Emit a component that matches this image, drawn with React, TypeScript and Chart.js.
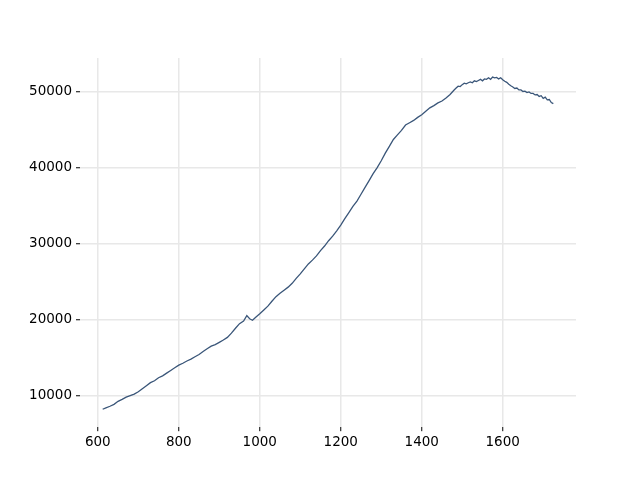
import React, { useEffect, useRef } from "react";
import { Chart, registerables } from "chart.js";

Chart.register(...registerables);

const xValues: number[] = [
  612, 620, 630, 640, 650, 660, 670, 680, 690, 700,
  710, 720, 730, 740, 750, 760, 770, 780, 790, 800,
  810, 820, 830, 840, 850, 860, 870, 880, 890, 900,
  910, 920, 930, 940, 950, 960, 968, 975, 982, 990,
  1000, 1010, 1020, 1030, 1040, 1050, 1060, 1070, 1080, 1090,
  1100, 1110, 1120, 1130, 1140, 1150, 1160, 1170, 1180, 1190,
  1200, 1210, 1220, 1230, 1240, 1250, 1260, 1270, 1280, 1290,
  1300, 1310, 1320, 1330, 1340, 1350, 1360, 1370, 1380, 1390,
  1400, 1410, 1420, 1430, 1440, 1450, 1460, 1470, 1480, 1485,
  1490, 1495, 1500, 1505, 1510, 1515, 1520, 1525, 1530, 1535,
  1540, 1545, 1550, 1555, 1560, 1565, 1570, 1575, 1580, 1585,
  1590, 1595, 1600, 1605, 1610, 1615, 1620, 1625, 1630, 1635,
  1640, 1645, 1650, 1655, 1660, 1665, 1670, 1675, 1680, 1685,
  1690, 1695, 1700, 1705, 1710, 1715, 1720, 1725,
];

const yValues: number[] = [
  8260, 8450, 8650, 8900, 9300, 9550, 9850, 10050, 10250, 10550,
  10950, 11350, 11750, 12000, 12400, 12650, 13000, 13350, 13700, 14050,
  14300, 14600, 14850, 15150, 15450, 15850, 16200, 16550, 16750, 17050,
  17350, 17700, 18250, 18900, 19500, 19850, 20550, 20150, 19950, 20350,
  20800, 21300, 21800, 22450, 23050, 23500, 23900, 24300, 24800, 25450,
  26050, 26700, 27350, 27850, 28400, 29100, 29700, 30400, 31000, 31700,
  32450, 33300, 34100, 34900, 35600, 36500, 37400, 38300, 39200, 40000,
  40900, 41900, 42800, 43700, 44300, 44900, 45600, 45900, 46200, 46600,
  46950, 47400, 47850, 48150, 48500, 48750, 49150, 49600, 50200, 50450,
  50700, 50650, 50900, 51100, 51000, 51150, 51250, 51150, 51400, 51300,
  51450, 51600, 51400, 51650, 51600, 51800, 51600, 51900, 51800, 51850,
  51650, 51800, 51550, 51350, 51200, 50950, 50750, 50600, 50400, 50450,
  50200, 50200, 50000, 50050, 49850, 49950, 49750, 49750, 49550, 49600,
  49350, 49450, 49100, 49250, 48900, 48950, 48550, 48400,
];

const xTicks: number[] = [600, 800, 1000, 1200, 1400, 1600];
const yTicks: number[] = [10000, 20000, 30000, 40000, 50000];

export default function App() {
  const canvasRef = useRef<HTMLCanvasElement | null>(null);

  useEffect(() => {
    if (!canvasRef.current) return;
    const points = xValues.map((x, i) => ({ x, y: yValues[i] }));
    const font = { family: "DejaVu Sans", size: 13.5 };
    const grid = {
      color: "#e8e8e8",
      lineWidth: 1.5,
      tickColor: "#000",
      tickWidth: 1,
      tickLength: 4,
    };
    const chart = new Chart(canvasRef.current, {
      type: "line",
      data: {
        datasets: [
          {
            data: points,
            borderColor: "#3a5679",
            borderWidth: 1.3,
            pointRadius: 0,
            tension: 0,
            fill: false,
          },
        ],
      },
      options: {
        animation: false,
        responsive: false,
        layout: { padding: { left: 0, right: 64, top: 58, bottom: 0 } },
        plugins: { legend: { display: false }, tooltip: { enabled: false } },
        scales: {
          x: {
            type: "linear",
            min: 556,
            max: 1781,
            border: { display: false },
            grid,
            ticks: {
              color: "#000",
              font,
              padding: 3,
              maxRotation: 0,
              autoSkip: false,
              callback: (v: any) => String(v),
            },
            afterBuildTicks: (s: any) => {
              s.ticks = xTicks.map((v) => ({ value: v }));
            },
            afterFit: (s: any) => {
              s.height = 52.8;
            },
          },
          y: {
            type: "linear",
            min: 5900,
            max: 54400,
            border: { display: false },
            grid,
            ticks: {
              color: "#000",
              font,
              padding: 4,
              autoSkip: false,
              callback: (v: any) => String(v),
            },
            afterBuildTicks: (s: any) => {
              s.ticks = yTicks.map((v) => ({ value: v }));
            },
            afterFit: (s: any) => {
              s.width = 80;
            },
          },
        },
      },
    });
    return () => chart.destroy();
  }, []);

  return (
    <div style={{ position: "fixed", left: 0, top: 0, width: 640, height: 480, background: "#fff" }}>
      <canvas ref={canvasRef} width={640} height={480} style={{ display: "block" }} />
    </div>
  );
}
